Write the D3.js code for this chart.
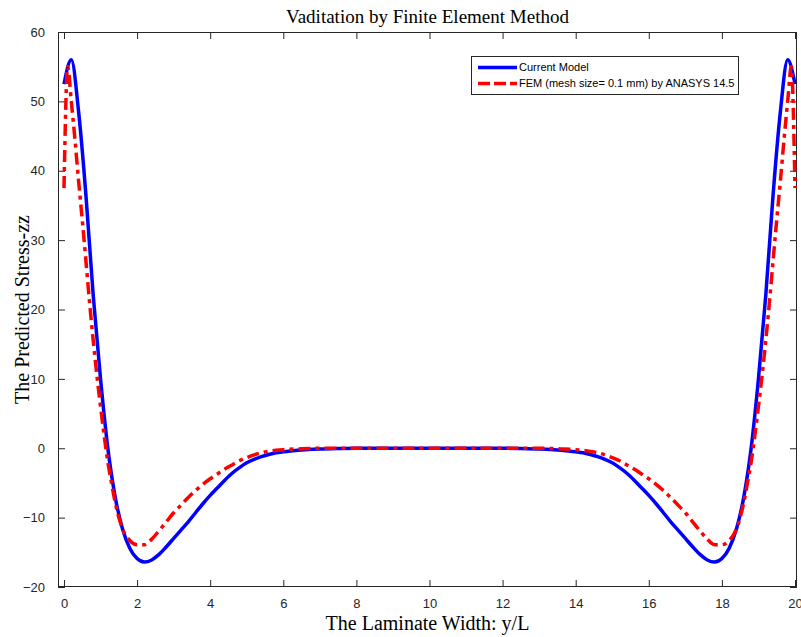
<!DOCTYPE html>
<html><head><meta charset="utf-8">
<script src="https://cdn.jsdelivr.net/npm/d3@7"></script>
<style>body{margin:0;background:#fff}svg{display:block}</style>
</head><body>
<script>
const xTicks = [0,2,4,6,8,10,12,14,16,18,20];
const yTicks = [-20,-10,0,10,20,30,40,50,60];

const blueX = [0,0.2,0.4,0.6,0.8,1.0,1.2,1.4,1.6,1.8,2.0,2.2,2.4,2.6,2.8,3.0,3.2,3.4,3.6,3.8,4.0,4.2,4.4,4.6,4.8,5.0,5.2,5.4,5.6,5.8,6.0,6.2,6.4,6.6,6.8,7.0,7.5,8,9,10,11,12,12.5,13.0,13.2,13.4,13.6,13.8,14.0,14.2,14.4,14.6,14.8,15.0,15.2,15.4,15.6,15.8,16.0,16.2,16.4,16.6,16.8,17.0,17.2,17.4,17.6,17.8,18.0,18.2,18.4,18.6,18.8,19.0,19.2,19.4,19.6,19.8,20.0];
const blueY = [52.5,56.0,48.5,36.5,22.0,10.0,0.0,-7.0,-11.6,-14.4,-15.9,-16.4,-16.1,-15.3,-14.2,-13.0,-11.8,-10.6,-9.3,-8.0,-6.8,-5.7,-4.6,-3.6,-2.8,-2.1,-1.6,-1.2,-0.9,-0.65,-0.5,-0.38,-0.28,-0.2,-0.14,-0.1,-0.05,0,0,0,0,0,-0.05,-0.1,-0.14,-0.2,-0.28,-0.38,-0.5,-0.65,-0.9,-1.2,-1.6,-2.1,-2.8,-3.6,-4.6,-5.7,-6.8,-8.0,-9.3,-10.6,-11.8,-13.0,-14.2,-15.3,-16.1,-16.4,-15.9,-14.4,-11.6,-7.0,0.0,10.0,22.0,36.5,48.5,56.0,52.5];

const redX = [0,0.1,0.2,0.3,0.4,0.5,0.6,0.7,0.8,0.9,1.0,1.1,1.2,1.3,1.4,1.6,1.8,2.0,2.2,2.4,2.6,2.8,3.0,3.2,3.4,3.6,3.8,4.0,4.2,4.4,4.6,4.8,5.0,5.2,5.4,5.6,5.8,6.0,6.4,7.0,8,9,10,11,12,13.0,13.6,14.0,14.2,14.4,14.6,14.8,15.0,15.2,15.4,15.6,15.8,16.0,16.2,16.4,16.6,16.8,17.0,17.2,17.4,17.6,17.8,18.0,18.2,18.4,18.6,18.7,18.8,18.9,19.0,19.1,19.2,19.3,19.4,19.5,19.6,19.7,19.8,19.9,20.0];
const redY = [37.5,55.0,50.0,44.5,38.5,32.9,27.0,21.0,15.5,10.5,6.0,1.8,-2.0,-5.0,-7.8,-11.6,-13.3,-13.9,-13.9,-13.1,-11.9,-10.6,-9.3,-8.2,-7.1,-6.1,-5.2,-4.4,-3.7,-3.0,-2.4,-1.8,-1.35,-0.95,-0.65,-0.45,-0.3,-0.2,-0.1,0,0,0,0,0,0,0,-0.1,-0.2,-0.3,-0.45,-0.65,-0.95,-1.35,-1.8,-2.4,-3.0,-3.7,-4.4,-5.2,-6.1,-7.1,-8.2,-9.3,-10.6,-11.9,-13.1,-13.9,-13.9,-13.3,-11.6,-7.8,-5.0,-2.0,1.8,6.0,10.5,15.5,21.0,27.0,32.9,38.5,44.5,50.0,55.0,37.5];

const seriesNames = ["Current Model","FEM (mesh size= 0.1 mm) by ANASYS 14.5"];
const titleText = "Vaditation by Finite Element Method";
const xLabel = "The Laminate Width: y/L";
const yLabel = "The Predicted Stress-zz";

const W = 801, H = 637;
const L = 58, R = 797, T = 32, B = 587;
const x = d3.scaleLinear().domain([-0.164, 20.055]).range([L, R]);
const y = d3.scaleLinear().domain([-20, 60]).range([B, T]);

const svg = d3.select("body").append("svg").attr("width", W).attr("height", H);
const axisColor = "#262626";
const tickFont = "'Liberation Sans', Arial, sans-serif";
const serif = "'Liberation Serif', 'Times New Roman', serif";

const clipId = "plotclip";
svg.append("clipPath").attr("id", clipId).append("rect")
  .attr("x", L).attr("y", T - 2).attr("width", R - L).attr("height", B - T + 4);

// axes
const tl = 7;
const gx = svg.append("g").attr("transform", `translate(0,${B})`)
  .call(d3.axisBottom(x).tickValues(xTicks).tickSize(-tl).tickPadding(tl + 5).tickFormat(d3.format("d")));
const gxt = svg.append("g").attr("transform", `translate(0,${T})`)
  .call(d3.axisTop(x).tickValues(xTicks).tickSize(-tl).tickFormat(""));
const gy = svg.append("g").attr("transform", `translate(${L},0)`)
  .call(d3.axisLeft(y).tickValues(yTicks).tickSize(-tl).tickPadding(tl + 6).tickFormat(d3.format("d")));
const gyr = svg.append("g").attr("transform", `translate(${R},0)`)
  .call(d3.axisRight(y).tickValues(yTicks).tickSize(-tl).tickFormat(""));
[gx, gxt, gy, gyr].forEach(g => {
  g.select(".domain").remove();
  g.selectAll(".tick line").attr("stroke", axisColor).attr("stroke-width", 1);
  g.selectAll(".tick text").attr("fill", axisColor).style("font-family", tickFont).style("font-size", "13px");
});
svg.append("rect").attr("x", L + 0.5).attr("y", T + 0.5).attr("width", R - L - 1).attr("height", B - T - 1)
  .attr("fill", "none").attr("stroke", axisColor).attr("stroke-width", 1);

// lines
const line = d3.line().curve(d3.curveMonotoneX).x(d => x(d[0])).y(d => y(d[1]));
const blueData = blueX.map((v, i) => [v, blueY[i]]);
const redData = redX.map((v, i) => [v, redY[i]]);
const pg = svg.append("g").attr("clip-path", `url(#${clipId})`);
pg.append("path").datum(blueData).attr("d", line)
  .attr("fill", "none").attr("stroke", "#0000ff").attr("stroke-width", 3.5).attr("stroke-linejoin", "miter");
pg.append("path").datum(redData).attr("d", line)
  .attr("fill", "none").attr("stroke", "#ff0000").attr("stroke-width", 3.5)
  .attr("stroke-dasharray", "12,5,4,5");

// legend
const lg = svg.append("g");
lg.append("rect").attr("x", 471.5).attr("y", 56.5).attr("width", 267).attr("height", 38)
  .attr("fill", "#fff").attr("stroke", axisColor).attr("stroke-width", 1);
const rows = [{n: seriesNames[0], c: "#0000ff", dash: null, yy: 67.5},
              {n: seriesNames[1], c: "#ff0000", dash: "12,4", yy: 83.5}];
rows.forEach(r => {
  const ln = lg.append("line").attr("x1", 478).attr("x2", 517).attr("y1", r.yy).attr("y2", r.yy)
    .attr("stroke", r.c).attr("stroke-width", 3.5);
  if (r.dash) ln.attr("stroke-dasharray", r.dash);
  lg.append("text").attr("x", 519).attr("y", r.yy).attr("dy", "0.35em")
    .style("font-family", tickFont).style("font-size", "11px").attr("fill", "#000").text(r.n);
});

// titles
svg.append("text").attr("x", (L + R) / 2).attr("y", 23).attr("text-anchor", "middle")
  .style("font-family", serif).style("font-size", "19px").attr("fill", "#000").text(titleText);
svg.append("text").attr("x", (L + R) / 2).attr("y", 630).attr("text-anchor", "middle")
  .style("font-family", serif).style("font-size", "20px").attr("fill", "#000").text(xLabel);
svg.append("text").attr("transform", `translate(29,${(T + B) / 2}) rotate(-90)`).attr("text-anchor", "middle")
  .style("font-family", serif).style("font-size", "20px").attr("fill", "#000").text(yLabel);
</script>
</body></html>
